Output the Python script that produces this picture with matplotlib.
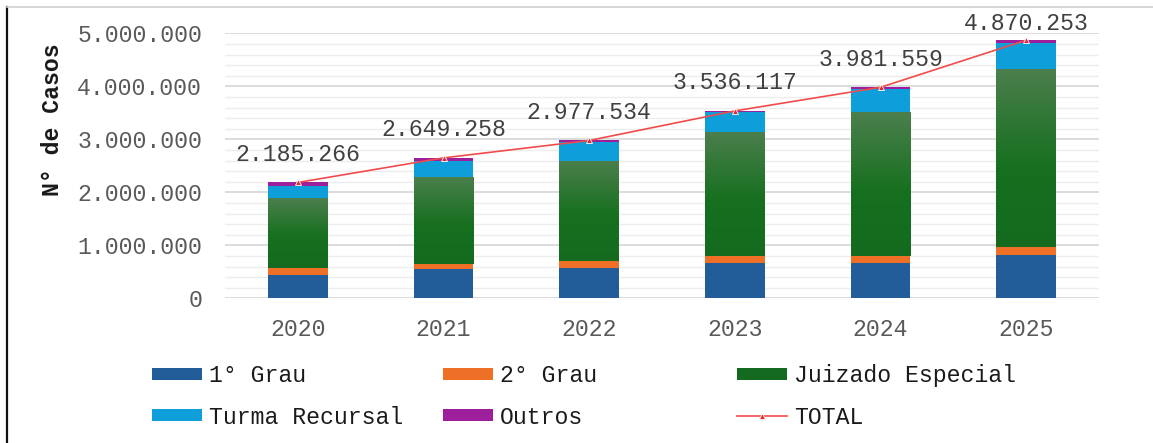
import matplotlib
matplotlib.use("Agg")
import matplotlib.pyplot as plt
import numpy as np
from matplotlib.colors import LinearSegmentedColormap
from matplotlib.lines import Line2D

years = ["2020", "2021", "2022", "2023", "2024", "2025"]
grau1 = [440000, 550000, 570000, 670000, 670000, 810000]
grau2 = [140000, 90000, 140000, 130000, 130000, 160000]
juizado = [1320000, 1650000, 1890000, 2340000, 2710000, 3350000]
turma = [220000, 310000, 340000, 380000, 445000, 500000]
outros = [65266, 49258, 37534, 16117, 26559, 50253]
total = [2185266, 2649258, 2977534, 3536117, 3981559, 4870253]

MONO = "Liberation Mono"
FS = 16.7
W, H = 1153, 443

fig = plt.figure(figsize=(W / 100, H / 100), dpi=100)
ax = fig.add_axes([225 / W, 1 - 298.3 / H, (1099 - 225) / W, (298.3 - 33.3) / H])

x = np.arange(len(years))
bw = 0.41
series = [
    ("1° Grau", grau1, "#225C99"),
    ("2° Grau", grau2, "#EE7026"),
    ("Juizado Especial", juizado, "#146B1F"),
    ("Turma Recursal", turma, "#0E9FDB"),
    ("Outros", outros, "#9E1F9C"),
]

handles = {}
bottom = np.zeros(len(years))
green_cmap = LinearSegmentedColormap.from_list(
    "g", [(0, "#146B1F"), (0.45, "#16701F"), (1, "#4C7F4D")])
for name, vals, col in series:
    bars = ax.bar(x, vals, bw, bottom=bottom, color=col, zorder=3, label=name)
    handles[name] = bars
    if name == "Juizado Especial":
        grad = np.linspace(0, 1, 256).reshape(-1, 1)
        for b in bars:
            im = ax.imshow(grad, cmap=green_cmap, aspect="auto", origin="lower",
                           extent=(b.get_x(), b.get_x() + b.get_width(),
                                   b.get_y(), b.get_y() + b.get_height()),
                           zorder=3.5)
            im.set_clip_path(b)
    bottom += np.array(vals)

line, = ax.plot(x, total, color="#F24B4B", lw=1.2, marker="^", ms=5,
                mfc="#E8262A", mec="white", mew=0.6, zorder=5, label="TOTAL")
handles["TOTAL"] = line

ax.set_xlim(-0.5, len(years) - 0.5)
ax.set_ylim(0, 5000000)
ax.set_yticks(np.arange(0, 5000001, 1000000))
ax.set_yticks(np.arange(0, 5000001, 200000), minor=True)
ax.set_yticklabels([f"{int(v):,}".replace(",", ".") for v in ax.get_yticks()])
ax.set_xticks(x)
ax.set_xticklabels(years)
ax.grid(axis="y", which="major", color="#D6D6D6", lw=1.2, zorder=0)
ax.grid(axis="y", which="minor", color="#EDEDED", lw=1.0, zorder=0)
ax.tick_params(axis="both", which="both", length=0, labelsize=FS,
               labelcolor="#595959")
ax.tick_params(axis="y", pad=16.5)
ax.tick_params(axis="x", pad=14)
for lbl in ax.get_xticklabels() + ax.get_yticklabels():
    lbl.set_fontfamily(MONO)
for s in ax.spines.values():
    s.set_visible(False)

ax.set_ylabel("N° de Casos", fontfamily=MONO, fontsize=FS, fontweight="bold",
              color="#1A1A1A", labelpad=0)
ax.yaxis.set_label_coords((64 - 225) / (1099 - 225), (298.3 - 120) / 265)

# total labels above the line, kept inside the figure top
top_px = fig.transFigure.transform((0, ax.get_position().y1))[1]
for xi, v in zip(x, total):
    py = ax.transData.transform((xi, v))[1]
    off = min(28, top_px + 10 - py)
    ax.annotate(f"{v:,}".replace(",", "."), (xi, v), xytext=(0, off),
                textcoords="offset pixels", ha="center", va="center",
                fontfamily=MONO, fontsize=FS, color="#404040", zorder=6)

# legend, laid out in three columns like the original
cols = [("1° Grau", "Turma Recursal"), ("2° Grau", "Outros"),
        ("Juizado Especial", "TOTAL")]
col_x = [152, 443, 737]
for cx, names in zip(col_x, cols):
    fig.legend([handles[n] for n in names], names, loc="upper left",
               bbox_to_anchor=(cx / W, 1 - 364 / H), frameon=False,
               prop={"family": MONO, "size": FS}, handlelength=2.15,
               handleheight=0.4, handletextpad=0.3, labelspacing=0.8,
               borderpad=0, borderaxespad=0, labelcolor="#1A1A1A")

fig.add_artist(Line2D([7 / W, 7 / W], [0, 1 - 7 / H], color="#111111", lw=1.6))
fig.add_artist(Line2D([7 / W, 1], [1 - 7 / H, 1 - 7 / H], color="#D0D0D0", lw=1.2))

fig.savefig("out.png", dpi=100)
